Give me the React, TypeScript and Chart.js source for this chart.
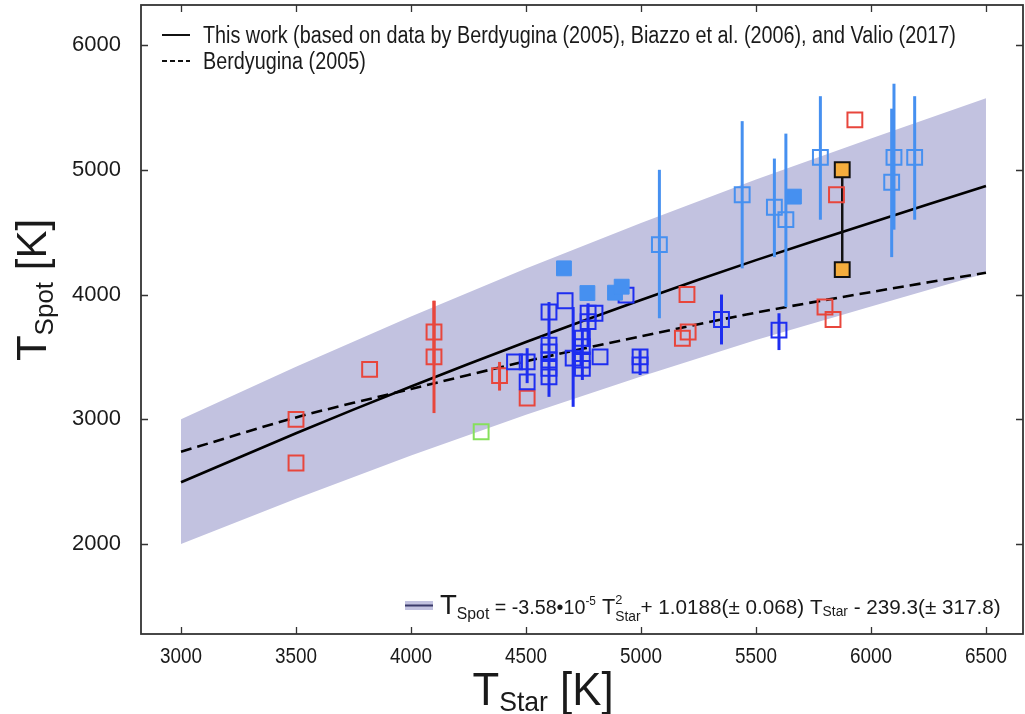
import React, { useEffect, useRef } from "react";
import { Chart, registerables } from "chart.js";

Chart.register(...registerables);

// ---------- data ----------
const xTicks = [3000, 3500, 4000, 4500, 5000, 5500, 6000, 6500];
const yTicks = [2000, 3000, 4000, 5000, 6000];

const curveT = [3000, 3500, 4000, 4500, 5000, 5500, 6000, 6500];
const fitSpot = [2495, 2888, 3263, 3619, 3956, 4276, 4576, 4870];
const berdSpot = [2740, 3015, 3243, 3465, 3665, 3855, 4020, 4175];
const bandUpper = [3000, 3421, 3825, 4209, 4574, 4922, 5251, 5573];
const bandLower = [2000, 2364, 2709, 3036, 3344, 3635, 3905, 4170];

const redT = [3500, 3500, 3820, 4100, 4100, 4385, 4505, 5180, 5205, 5200, 5800, 5835, 5850, 5930];
const redSpot = [3000, 2650, 3400, 3700, 3500, 3350, 3170, 3650, 3700, 4000, 3900, 3800, 4800, 5400];
const redLow = [null, null, null, 3450, 3050, 3230, null, null, null, null, null, null, null, null];
const redHigh = [null, null, null, 3950, 3950, 3460, null, null, null, null, null, null, null, null];

const greenT = [4305];
const greenSpot = [2900];

const blueT = [4450, 4505, 4505, 4600, 4600, 4600, 4600, 4600, 4600, 4670, 4705, 4745, 4745, 4745, 4745, 4770, 4770, 4800, 4822, 4996, 4996, 4935, 5350, 5600];
const blueSpot = [3460, 3460, 3300, 3860, 3595, 3540, 3475, 3408, 3340, 3950, 3490, 3650, 3583, 3475, 3408, 3850, 3783, 3850, 3500, 3500, 3435, 3995, 3800, 3715];
const blueLow = [null, 3290, null, null, 3180, null, null, null, null, null, 3100, null, 3315, null, null, 3580, null, null, null, 3355, null, null, 3600, 3555];
const blueHigh = [null, 3570, null, null, 3940, null, null, null, null, null, 3900, null, 3715, null, null, 3930, null, null, null, 3555, null, null, 4000, 3850];

const lightT = [5080, 5440, 5580, 5630, 5780, 6100, 6090, 6190];
const lightSpot = [4400, 4800, 4700, 4600, 5100, 5100, 4900, 5100];
const lightLow = [3810, 4210, 4300, 3900, 4600, 4520, 4300, 4600];
const lightHigh = [5000, 5390, 5090, 5290, 5590, 5690, 5490, 5590];

const lightFilledT = [4665, 4767, 4887, 4916, 5665];
const lightFilledSpot = [4210, 4012, 4015, 4063, 4785];

const orangeT = [5875, 5875];
const orangeSpot = [5000, 4200];
const orangeLow = [4200, null];
const orangeHigh = [5000, null];

const legendLabels = [
  "This work (based on data by Berdyugina (2005), Biazzo et al. (2006), and Valio (2017)",
  "Berdyugina (2005)",
];

// ---------- styles ----------
const RED = "#e8463c";
const BLUE = "#1e2ef0";
const LIGHT = "#4690f0";
const GREEN = "#86e05c";
const ORANGE = "#f5ad3d";
const BAND = "#c2c2e0";
const SANS = '"Liberation Sans", Arial, Helvetica, sans-serif';
const NARROW_SCALE = 0.86;

const pts = (xs: number[], ys: number[]) => xs.map((x, i) => ({ x, y: ys[i] }));

type Run = { t: string; s: number; dy?: number; stack?: boolean };

function drawRuns(ctx: CanvasRenderingContext2D, x: number, y: number, runs: Run[], hs: number, measureOnly = false) {
  let cx = 0;
  let pendingStack = 0;
  ctx.save();
  ctx.translate(x, y);
  ctx.scale(hs, 1);
  for (const r of runs) {
    ctx.font = `${r.s}px ${SANS}`;
    const w = ctx.measureText(r.t).width;
    if (!measureOnly) ctx.fillText(r.t, cx, r.dy || 0);
    if (r.stack) {
      pendingStack = Math.max(pendingStack, w);
    } else {
      cx += Math.max(w, pendingStack);
      pendingStack = 0;
    }
  }
  ctx.restore();
  return cx * hs;
}

const errPlugin = {
  id: "errbars",
  afterDatasetDraw(chart: any, args: any) {
    if (chart.data.datasets[args.index].label !== "fit") return;
    const ctx = chart.ctx as CanvasRenderingContext2D;
    const xs = chart.scales.x;
    const ys = chart.scales.y;
    const groups = [
      { t: redT, lo: redLow, hi: redHigh, c: RED, w: 3 },
      { t: blueT, lo: blueLow, hi: blueHigh, c: BLUE, w: 3 },
      { t: lightT, lo: lightLow, hi: lightHigh, c: LIGHT, w: 3 },
      { t: orangeT, lo: orangeLow, hi: orangeHigh, c: "#111", w: 2.5 },
    ];
    ctx.save();
    const a = chart.chartArea;
    ctx.beginPath();
    ctx.rect(a.left, a.top, a.right - a.left, a.bottom - a.top);
    ctx.clip();
    for (const g of groups) {
      ctx.strokeStyle = g.c;
      ctx.lineWidth = g.w;
      g.t.forEach((t, i) => {
        const lo = g.lo[i];
        const hi = g.hi[i];
        if (lo == null || hi == null) return;
        const px = xs.getPixelForValue(t);
        ctx.beginPath();
        ctx.moveTo(px, ys.getPixelForValue(lo));
        ctx.lineTo(px, ys.getPixelForValue(hi));
        ctx.stroke();
      });
    }
    ctx.restore();
  },
};

const decorPlugin = {
  id: "decor",
  afterDraw(chart: any) {
    const ctx = chart.ctx as CanvasRenderingContext2D;
    const a = chart.chartArea;
    const xs = chart.scales.x;
    const ys = chart.scales.y;
    ctx.save();
    // frame
    ctx.strokeStyle = "#333";
    ctx.lineWidth = 1.8;
    ctx.strokeRect(a.left, a.top, a.right - a.left, a.bottom - a.top);
    // inward ticks
    const TL = 7;
    ctx.lineWidth = 1.3;
    ctx.beginPath();
    for (const v of xTicks) {
      const p = Math.round(xs.getPixelForValue(v)) + 0.5;
      ctx.moveTo(p, a.bottom);
      ctx.lineTo(p, a.bottom - TL);
      ctx.moveTo(p, a.top);
      ctx.lineTo(p, a.top + TL);
    }
    for (const v of yTicks) {
      const p = Math.round(ys.getPixelForValue(v)) + 0.5;
      ctx.moveTo(a.left, p);
      ctx.lineTo(a.left + TL, p);
      ctx.moveTo(a.right, p);
      ctx.lineTo(a.right - TL, p);
    }
    ctx.stroke();

    ctx.fillStyle = "#1a1a1a";
    ctx.textBaseline = "alphabetic";
    ctx.textAlign = "left";

    // x tick labels (narrow)
    for (const v of xTicks) {
      const p = xs.getPixelForValue(v);
      const runs: Run[] = [{ t: String(v), s: 22 }];
      const w = drawRuns(ctx, 0, 0, runs, NARROW_SCALE, true);
      drawRuns(ctx, p - w / 2, a.bottom + 29, runs, NARROW_SCALE);
    }

    // top legend
    ctx.strokeStyle = "#111";
    ctx.lineWidth = 2;
    ctx.beginPath();
    ctx.moveTo(162, 35);
    ctx.lineTo(190, 35);
    ctx.stroke();
    ctx.setLineDash([5, 3]);
    ctx.beginPath();
    ctx.moveTo(162, 61);
    ctx.lineTo(190, 61);
    ctx.stroke();
    ctx.setLineDash([]);
    drawRuns(ctx, 203, 43, [{ t: legendLabels[0], s: 23 }], NARROW_SCALE);
    drawRuns(ctx, 203, 69, [{ t: legendLabels[1], s: 23 }], NARROW_SCALE);

    // formula legend
    ctx.fillStyle = BAND;
    ctx.fillRect(405, 601, 28, 9);
    ctx.strokeStyle = "#3a3a6a";
    ctx.lineWidth = 2;
    ctx.beginPath();
    ctx.moveTo(405, 605.5);
    ctx.lineTo(433, 605.5);
    ctx.stroke();
    ctx.fillStyle = "#1a1a1a";
    const formula: Run[] = [
      { t: "T", s: 28 },
      { t: "Spot", s: 16, dy: 5 },
      { t: " = -3.58\u202210", s: 20 },
      { t: "-5", s: 12, dy: -9 },
      { t: " T", s: 22 },
      { t: "2", s: 13, dy: -10, stack: true },
      { t: "Star", s: 14, dy: 7 },
      { t: "+ 1.0188(\u00b1 0.068) T", s: 21 },
      { t: "Star", s: 14, dy: 2 },
      { t: " - 239.3(\u00b1 317.8)", s: 21 },
    ];
    drawRuns(ctx, 440, 614, formula, 0.985);

    // x axis title
    const xTitle: Run[] = [
      { t: "T", s: 46 },
      { t: "Star", s: 28, dy: 6 },
      { t: " [K]", s: 46 },
    ];
    const xw = drawRuns(ctx, 0, 0, xTitle, 0.95, true);
    drawRuns(ctx, 543 - xw / 2, 705, xTitle, 0.95);

    // y axis title
    const yTitle: Run[] = [
      { t: "T", s: 42 },
      { t: "Spot", s: 26, dy: 7 },
      { t: " [K]", s: 42 },
    ];
    const yw = drawRuns(ctx, 0, 0, yTitle, 1, true);
    ctx.translate(46, 290);
    ctx.rotate(-Math.PI / 2);
    drawRuns(ctx, -yw / 2, 0, yTitle, 1);
    ctx.restore();
  },
};

export default function App() {
  const ref = useRef<HTMLCanvasElement | null>(null);
  useEffect(() => {
    if (!ref.current) return;
    const openSq = (label: string, xs: number[], ys: number[], color: string, order = 1) => ({
      label,
      data: pts(xs, ys),
      pointStyle: "rect",
      pointRadius: 10.5,
      borderColor: color,
      backgroundColor: "rgba(0,0,0,0)",
      pointBorderWidth: 2,
      borderWidth: 2,
      showLine: false,
      order,
    });
    const chart = new Chart(ref.current, {
      type: "scatter",
      data: {
        datasets: [
          {
            label: "orange",
            data: pts(orangeT, orangeSpot),
            pointStyle: "rect",
            pointRadius: 10.5,
            backgroundColor: ORANGE,
            borderColor: "#111",
            pointBorderWidth: 2,
            showLine: false,
            order: 0,
          } as any,
          {
            label: "lightFilled",
            data: pts(lightFilledT, lightFilledSpot),
            pointStyle: "rect",
            pointRadius: 10.5,
            backgroundColor: LIGHT,
            borderColor: LIGHT,
            pointBorderWidth: 1,
            showLine: false,
            order: 1,
          },
          openSq("light", lightT, lightSpot, LIGHT),
          openSq("blue", blueT, blueSpot, BLUE),
          openSq("green", greenT, greenSpot, GREEN),
          openSq("red", redT, redSpot, RED),
          {
            label: "fit",
            data: pts(curveT, fitSpot),
            showLine: true,
            borderColor: "#000",
            borderWidth: 2.6,
            pointRadius: 0,
            tension: 0.3,
            order: 2,
          },
          {
            label: "berd",
            data: pts(curveT, berdSpot),
            showLine: true,
            borderColor: "#000",
            borderWidth: 2.6,
            borderDash: [11, 6],
            pointRadius: 0,
            tension: 0.3,
            order: 3,
          },
          {
            label: "bandUpper",
            data: pts(curveT, bandUpper),
            showLine: true,
            borderWidth: 0,
            borderColor: "rgba(0,0,0,0)",
            backgroundColor: BAND,
            fill: "+1",
            pointRadius: 0,
            order: 4,
          },
          {
            label: "bandLower",
            data: pts(curveT, bandLower),
            showLine: true,
            borderWidth: 0,
            borderColor: "rgba(0,0,0,0)",
            fill: false,
            pointRadius: 0,
            order: 5,
          },
        ],
      },
      options: {
        responsive: false,
        animation: false,
        events: [],
        layout: { autoPadding: false, padding: { top: 5, right: 2, left: 0, bottom: 0 } },
        plugins: {
          legend: { display: false },
          tooltip: { enabled: false },
          filler: { propagate: false },
        },
        scales: {
          x: {
            type: "linear",
            min: 2826,
            max: 6661,
            afterBuildTicks: (s: any) => {
              s.ticks = xTicks.map((v) => ({ value: v }));
            },
            afterFit: (s: any) => {
              s.height = 80;
              s.paddingLeft = 0;
              s.paddingRight = 0;
            },
            ticks: { display: false },
            grid: { display: false, drawTicks: false },
            border: { display: false },
          },
          y: {
            type: "linear",
            min: 1279,
            max: 6321,
            afterBuildTicks: (s: any) => {
              s.ticks = yTicks.map((v) => ({ value: v }));
            },
            afterFit: (s: any) => {
              s.width = 141;
              s.paddingTop = 0;
              s.paddingBottom = 0;
            },
            ticks: {
              autoSkip: false,
              padding: 20,
              color: "#1a1a1a",
              font: { family: SANS, size: 22 },
              callback: (v: any) => String(v),
            },
            grid: { display: false, drawTicks: false },
            border: { display: false },
          },
        },
      },
      plugins: [errPlugin, decorPlugin],
    } as any);
    return () => chart.destroy();
  }, []);
  return (
    <div style={{ position: "fixed", left: 0, top: 0, width: 1025, height: 714, background: "#fff" }}>
      <canvas ref={ref} width={1025} height={714} style={{ display: "block" }} />
    </div>
  );
}
